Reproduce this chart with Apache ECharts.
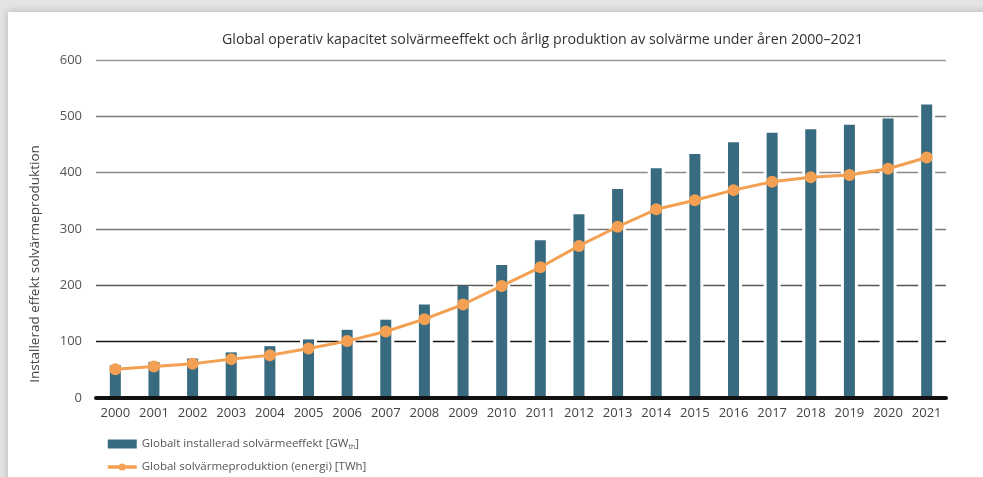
<!DOCTYPE html>
<html lang="sv">
<head>
<meta charset="utf-8">
<title>Solvärme 2000–2021</title>
<script src="https://cdn.jsdelivr.net/npm/echarts@6/dist/echarts.min.js"></script>
<style>
  html, body { margin: 0; padding: 0; }
  body { width: 983px; height: 477px; background: #e4e4e4; position: relative; overflow: hidden; }
  #card { position: absolute; left: 8px; top: 12px; width: 1000px; height: 500px; background: #fff;
          box-shadow: 0 0 8px rgba(0,0,0,0.22); }
  #chart { position: absolute; left: 0; top: 0; width: 983px; height: 477px; }
</style>
</head>
<body>
<div id="card"></div>
<div id="chart"></div>
<script>
// Kategorier och värden
const years = ['2000','2001','2002','2003','2004','2005','2006','2007','2008','2009','2010',
               '2011','2012','2013','2014','2015','2016','2017','2018','2019','2020','2021'];
// Globalt installerad solvärmeeffekt [GWth]
const capacity = [58, 64, 70, 81, 92, 104, 121, 139, 166, 199, 236,
                  280, 326, 371, 408, 433, 454, 471, 477, 485, 496, 521];
// Global solvärmeproduktion (energi) [TWh]
const production = [51, 56, 61, 69, 76, 88, 101, 118, 140, 166, 199,
                    232, 270, 304, 335, 351, 369, 384, 392, 396, 407, 427];
const yTicks = [0, 100, 200, 300, 400, 500, 600];

const capacityName = 'Globalt installerad solvärmeeffekt [GW{sub|th}]';
const productionName = 'Global solvärmeproduktion (energi) [TWh]';

const FONT = '"Open Sans", "DejaVu Sans", sans-serif';
const BAR_COLOR = '#386a80';
const LINE_COLOR = '#f3a052';

const chart = echarts.init(document.getElementById('chart'), null, { renderer: 'canvas' });

chart.setOption({
  backgroundColor: 'transparent',
  animation: false,
  textStyle: { fontFamily: FONT },
  title: {
    text: 'Global operativ kapacitet solvärmeeffekt och årlig produktion av solvärme under åren 2000–2021',
    left: 217,
    top: 28,
    textStyle: { fontSize: 14.2, fontWeight: 'normal', color: '#333', fontFamily: FONT }
  },
  grid: { left: 96, right: 37, top: 60, bottom: 79, containLabel: false },
  legend: {
    orient: 'vertical',
    left: 101,
    top: 433,
    height: 80,
    itemWidth: 29,
    itemHeight: 9,
    itemGap: 11,
    itemTextGap: 11,
    selectedMode: false,
    data: [
      { name: capacityName, icon: 'rect' },
      { name: productionName, lineStyle: { width: 3.5, color: LINE_COLOR } }
    ],
    formatter: function (name) { return name; },
    textStyle: {
      fontSize: 11.5,
      color: '#555',
      fontFamily: FONT,
      rich: {
        sub: { fontSize: 7, color: '#555', fontFamily: FONT, verticalAlign: 'bottom', padding: [5, 0, 0, 0] }
      }
    }
  },
  xAxis: [
    {
      type: 'category',
      data: years,
      z: 10,
      axisLine: { show: true, lineStyle: { color: '#111', width: 4 } },
      axisTick: { show: false },
      axisLabel: { color: '#444', fontSize: 13, margin: 9, fontFamily: FONT, interval: 0 },
      splitLine: { show: false }
    },
    {
      // Dold axel för de vita kanterna runt staplarna
      type: 'category',
      data: years,
      show: false,
      position: 'bottom'
    }
  ],
  yAxis: {
    type: 'value',
    min: yTicks[0],
    max: yTicks[yTicks.length - 1],
    interval: 100,
    axisLine: { show: false },
    axisTick: { show: false },
    axisLabel: { color: '#555', fontSize: 13, margin: 14, fontFamily: FONT },
    splitLine: {
      show: true,
      lineStyle: {
        width: 1.3,
        color: ['#111', '#151515', '#555', '#777', '#8a8a8a', '#7d7d7d', '#9a9a9a']
      }
    }
  },
  graphic: [
    {
      type: 'text',
      x: 35,
      y: 264,
      rotation: Math.PI / 2,
      style: {
        text: 'Installerad effekt solvärmeproduktion',
        font: '13.5px ' + FONT,
        fill: '#444',
        textAlign: 'center',
        textVerticalAlign: 'middle'
      }
    }
  ],
  series: [
    {
      // vit kant som bryter stödlinjerna kring staplarna
      name: 'kant',
      type: 'bar',
      xAxisIndex: 1,
      data: capacity,
      barWidth: 17,
      silent: true,
      z: 2,
      itemStyle: { color: '#fff' },
      tooltip: { show: false }
    },
    {
      name: capacityName,
      type: 'bar',
      xAxisIndex: 0,
      data: capacity,
      barWidth: 11,
      z: 3,
      itemStyle: { color: BAR_COLOR }
    },
    {
      name: productionName,
      type: 'line',
      xAxisIndex: 0,
      data: production,
      z: 4,
      symbol: 'circle',
      symbolSize: 12,
      lineStyle: { color: LINE_COLOR, width: 3 },
      itemStyle: { color: LINE_COLOR }
    }
  ]
});
</script>
</body>
</html>
